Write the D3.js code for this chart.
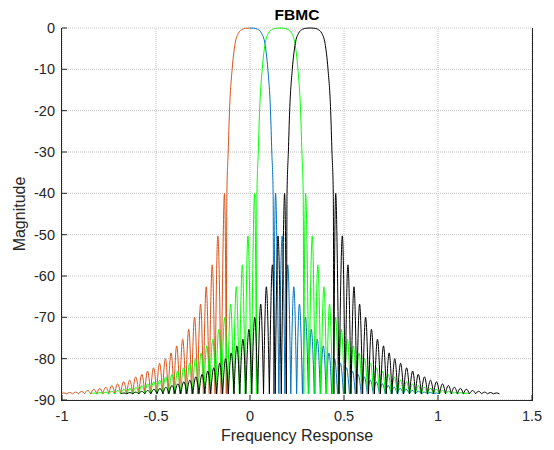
<!DOCTYPE html>
<html>
<head>
<meta charset="utf-8">
<script src="https://cdn.jsdelivr.net/npm/d3@7"></script>
<style>
  body { margin: 0; background: #fff; }
  svg { display: block; font-family: "Liberation Sans", Arial, sans-serif; }
  .grid line { stroke: #c4c4c4; stroke-dasharray: 1,1; }
  .tick-label { fill: #262626; font-size: 14.5px; }
</style>
</head>
<body>
<svg id="chart"></svg>
<script>
// subcarrier centres (normalised frequency)
const centers = [0, 0.16, 0.32];

// main lobe, one half: offset from centre -> magnitude (dB)
const mainOffsets = [0, 0.02, 0.04, 0.062, 0.079, 0.095, 0.109, 0.116, 0.123, 0.126];
const mainLevels = [0, -0.05, -0.3, -1.3, -3.7, -10, -20, -30, -40, -88.5];

// side lobe peaks, one half: offset from centre -> peak magnitude (dB)
const sideOffsets = [0.136, 0.171, 0.201, 0.233, 0.263, 0.295, 0.326, 0.358, 0.39, 0.42,
  0.45, 0.481, 0.513, 0.545, 0.575, 0.608, 0.64, 0.672, 0.704, 0.735,
  0.767, 0.799, 0.831, 0.864, 0.896, 0.928, 0.959, 0.991];
const sideLevels = [-40, -50.3, -57.3, -62.6, -66.8, -70, -72.9, -75.3, -76.9, -78.6,
  -80, -81.1, -82.2, -83, -83.8, -84.4, -85.2, -85.6, -86.1, -86.5,
  -86.9, -87.2, -87.4, -87.7, -87.9, -88.1, -88.2, -88.3];
const nullLevel = -88.5;

// drawn lines: which centre and which half of the response
const lineCenters = [0, 0, 0.16, 0.32];
const lineHalves = ["right", "left", "both", "both"];
const lineColors = ["#0072bd", "#d95319", "#00ff00", "#000000"];

const xTicks = [-1, -0.5, 0, 0.5, 1, 1.5];
const yTicks = [0, -10, -20, -30, -40, -50, -60, -70, -80, -90];

const width = 554, height = 450;
const margin = { top: 28, right: 22, bottom: 50, left: 62 };

const svg = d3.select("#chart").attr("width", width).attr("height", height);

const x = d3.scaleLinear().domain([-1, 1.5]).range([margin.left, width - margin.right]);
const y = d3.scaleLinear().domain([-90, 0]).range([height - margin.bottom, margin.top]);

// grid
const grid = svg.append("g").attr("class", "grid");
grid.selectAll(".gx").data(xTicks).join("line")
  .attr("x1", d => x(d)).attr("x2", d => x(d))
  .attr("y1", y(-90)).attr("y2", y(0));
grid.selectAll(".gy").data(yTicks).join("line")
  .attr("x1", x(-1)).attr("x2", x(1.5))
  .attr("y1", d => y(d)).attr("y2", d => y(d));

svg.append("clipPath").attr("id", "plot-clip")
  .append("rect")
  .attr("x", x(-1)).attr("y", y(0) - 2)
  .attr("width", x(1.5) - x(-1)).attr("height", y(-90) - y(0) + 2);

const mainLine = d3.line().x(d => x(d[0])).y(d => y(d[1])).curve(d3.curveMonotoneX);
const lobeLine = d3.line().x(d => x(d[0])).y(d => y(d[1])).curve(d3.curveNatural);

function halfPath(c, sign) {
  // main lobe half, sorted left to right
  let pts = mainOffsets.map((o, i) => [c + sign * o, mainLevels[i]]);
  if (sign < 0) pts.reverse();
  let d = mainLine(pts);

  // side lobes: nulls halfway between peaks
  let prevNull = mainOffsets[mainOffsets.length - 1];
  sideOffsets.forEach((o, i) => {
    const next = i < sideOffsets.length - 1
      ? (o + sideOffsets[i + 1]) / 2
      : o + (o - prevNull);
    const lobe = [
      [c + sign * prevNull, nullLevel],
      [c + sign * o, sideLevels[i]],
      [c + sign * next, nullLevel],
    ];
    d += lobeLine(lobe);
    prevNull = next;
  });
  return d;
}

const plot = svg.append("g").attr("clip-path", "url(#plot-clip)");
lineCenters.forEach((c, i) => {
  let d = "";
  if (lineHalves[i] !== "right") d += halfPath(c, -1);
  if (lineHalves[i] !== "left") d += halfPath(c, 1);
  plot.append("path")
    .attr("d", d)
    .attr("fill", "none")
    .attr("stroke", lineColors[i])
    .attr("stroke-width", 1)
    .attr("stroke-linejoin", "round");
});

// axes (MATLAB style, ticks inward)
const axisColor = "#262626";
const axes = svg.append("g").attr("stroke", axisColor).attr("fill", "none");
axes.append("line").attr("x1", x(-1)).attr("x2", x(1.5)).attr("y1", y(-90) + 0.5).attr("y2", y(-90) + 0.5);
axes.append("line").attr("x1", x(-1) - 0.5).attr("x2", x(-1) - 0.5).attr("y1", y(0)).attr("y2", y(-90) + 1);
axes.append("line").attr("x1", x(1.5) + 0.5).attr("x2", x(1.5) + 0.5).attr("y1", y(0)).attr("y2", y(-90) + 1);

axes.selectAll(".tx").data(xTicks).join("line")
  .attr("x1", d => x(d)).attr("x2", d => x(d))
  .attr("y1", y(-90)).attr("y2", y(-90) - 5);
axes.selectAll(".ty").data(yTicks).join("line")
  .attr("x1", x(-1)).attr("x2", x(-1) + 5)
  .attr("y1", d => y(d)).attr("y2", d => y(d));

svg.selectAll(".xl").data(xTicks).join("text")
  .attr("class", "tick-label")
  .attr("x", d => x(d)).attr("y", 421)
  .attr("text-anchor", "middle")
  .text(d => d);

svg.selectAll(".yl").data(yTicks).join("text")
  .attr("class", "tick-label")
  .attr("x", x(-1) - 7).attr("y", d => y(d) + 5)
  .attr("text-anchor", "end")
  .text(d => d);

svg.append("text")
  .attr("x", (x(-1) + x(1.5)) / 2).attr("y", 441)
  .attr("text-anchor", "middle")
  .attr("fill", axisColor).style("font-size", "16px")
  .text("Frequency Response");

svg.append("text")
  .attr("transform", `translate(25,${(y(0) + y(-90)) / 2}) rotate(-90)`)
  .attr("text-anchor", "middle")
  .attr("fill", axisColor).style("font-size", "16px")
  .text("Magnitude");

svg.append("text")
  .attr("x", (x(-1) + x(1.5)) / 2).attr("y", 19.5)
  .attr("text-anchor", "middle")
  .attr("fill", "#000").style("font-size", "15.5px").style("font-weight", "bold")
  .text("FBMC");
</script>
</body>
</html>
